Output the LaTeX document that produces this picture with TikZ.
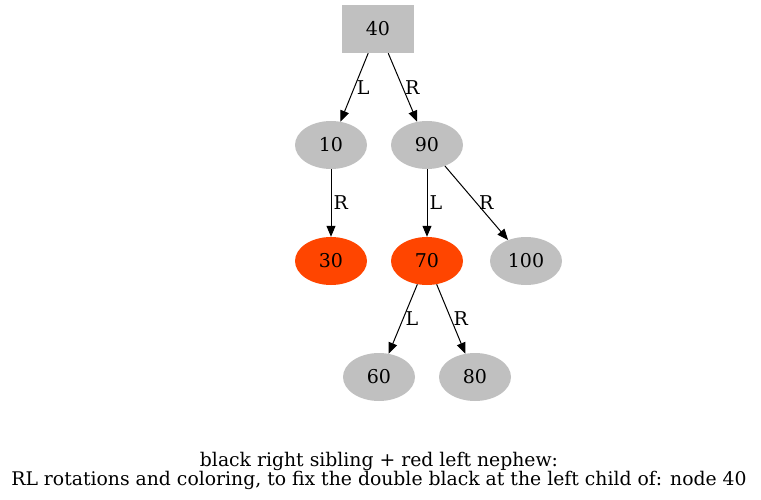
\documentclass[tikz,border=0pt]{standalone}
\usepackage{fontspec}
\setmainfont{DejaVu Serif}
\usetikzlibrary{arrows.meta,shapes.geometric}

\definecolor{nodegray}{RGB}{192,192,192}
\definecolor{nodered}{RGB}{255,69,0}

\tikzset{
  blk/.style={ellipse, fill=nodegray, minimum width=72pt, minimum height=48pt, inner sep=0pt, font=\fontsize{19}{22}\selectfont},
  red/.style={blk, fill=nodered},
  rootbox/.style={rectangle, fill=nodegray, minimum width=72pt, minimum height=48pt, inner sep=0pt, font=\fontsize{19}{22}\selectfont},
  edge/.style={line width=1pt, -{Triangle[length=11pt,width=9pt]}},
  lbl/.style={midway, right, xshift=1pt, inner sep=1pt, font=\fontsize{19}{22}\selectfont}
}

\begin{document}
\begin{tikzpicture}[x=1pt,y=-1pt]
\useasboundingbox (0,0) rectangle (761,500);

%% vertices
\node[rootbox] (n40) at (378,29) {40};
\node[blk] (n10) at (331,145) {10};
\node[blk] (n90) at (427,145) {90};
\node[red] (n30) at (331,261) {30};
\node[red] (n70) at (427,261) {70};
\node[blk] (n100) at (526,261) {100};
\node[blk] (n60) at (379,377) {60};
\node[blk] (n80) at (475,377) {80};

%%% edges
\draw[edge] (n40) -- node[lbl]{L} (n10);
\draw[edge] (n40) -- node[lbl]{R} (n90);
\draw[edge] (n10) -- node[lbl]{R} (n30);
\draw[edge] (n90) -- node[lbl]{L} (n70);
\draw[edge] (n90) -- node[lbl]{R} (n100);
\draw[edge] (n70) -- node[lbl]{L} (n60);
\draw[edge] (n70) -- node[lbl]{R} (n80);

%% caption
\node[align=center, font=\fontsize{18.8}{17.5}\selectfont] (cap) at (379,471) {black right sibling + red left nephew:\\RL rotations and coloring, to fix the double black at the left child of: node 40};

\end{tikzpicture}
\end{document}
